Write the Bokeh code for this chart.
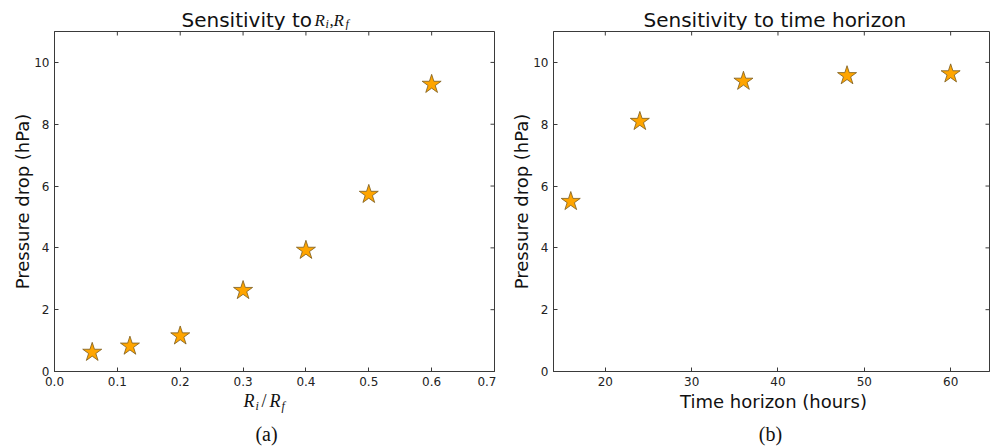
import math
from bokeh.plotting import figure
from bokeh.layouts import row, column
from bokeh.models import Range1d, FixedTicker, Label, PrintfTickFormatter
from bokeh.embed import file_html
from bokeh.resources import INLINE

# ---- data ----
ratio = [0.06, 0.12, 0.2, 0.3, 0.4, 0.5, 0.6]
drop_ratio = [0.62, 0.82, 1.15, 2.62, 3.92, 5.73, 9.29]
horizon = [16, 24, 36, 48, 60]
drop_horizon = [5.5, 8.09, 9.39, 9.57, 9.63]

ratio_ticks = [0.0, 0.1, 0.2, 0.3, 0.4, 0.5, 0.6, 0.7]
horizon_ticks = [20, 30, 40, 50, 60]
drop_ticks = [0, 2, 4, 6, 8, 10]
drop_range = (0, 11)
ratio_range = (0, 0.7)
horizon_range = (14, 64.5)

TOP_H = 30        # title strip height
MAIN_H = 360      # main plot height (frame 31..371 on the page)
BOT_MIN = 19      # room for the tick labels under the frame
BOT_H = 446 - TOP_H - MAIN_H   # strip with x-label / caption
AX = "#3a3a3a"
SANS = "DejaVu Sans"
SERIF = "Liberation Serif"


def style_axis(ax, ticks):
    ax.ticker = FixedTicker(ticks=ticks)
    ax.axis_line_color = AX
    ax.major_tick_line_color = AX
    ax.major_tick_in = 4
    ax.major_tick_out = 0
    ax.minor_tick_line_color = None
    ax.major_label_text_font = SANS
    ax.major_label_text_font_size = "12px"
    ax.major_label_text_color = "#222222"
    ax.major_label_standoff = 5
    ax.axis_label_text_font = SANS
    ax.axis_label_text_font_size = "18px"
    ax.axis_label_text_font_style = "normal"
    ax.axis_label_text_color = "#111111"


def make_fig(width, left, right, xr, xticks):
    p = figure(width=width, height=MAIN_H, output_backend="svg",
               toolbar_location=None, title=None,
               x_range=Range1d(*xr), y_range=Range1d(*drop_range),
               min_border_left=left, min_border_right=right,
               min_border_top=1, min_border_bottom=BOT_MIN)
    p.grid.visible = False
    p.outline_line_color = AX
    p.background_fill_color = "white"
    p.border_fill_color = "white"
    style_axis(p.xaxis[0], xticks)
    style_axis(p.yaxis[0], drop_ticks)
    p.yaxis[0].axis_label = "Pressure drop (hPa)"
    p.yaxis[0].axis_label_standoff = -2
    # inward ticks on the top and right edges (mirrors of the main ticks)
    p.scatter(xticks, [drop_range[1]] * len(xticks), marker="dash", size=8,
              angle=math.pi / 2, line_color=AX, line_width=1)
    p.scatter([xr[1]] * len(drop_ticks), drop_ticks, marker="dash", size=8,
              line_color=AX, line_width=1)
    return p


def strip(width, height, y0, left, right, fx0, fx1):
    # x in page pixels (frame fx0..fx1), y in page pixels (downwards)
    s = figure(width=width, height=height, output_backend="svg",
               toolbar_location=None, title=None,
               x_range=Range1d(fx0, fx1), y_range=Range1d(y0 + height, y0),
               x_axis_type=None, y_axis_type=None, min_border_left=left,
               min_border_right=right, min_border_top=0,
               min_border_bottom=0)
    s.outline_line_color = None
    s.grid.visible = False
    s.background_fill_color = "white"
    s.border_fill_color = "white"
    return s


def lab(s, x, base, text, size, font=SERIF, style="italic", align="left",
        color="#111111"):
    px = float(size.replace("px", ""))
    s.add_layout(Label(x=x, y=base - 0.35 * px, text=text, text_font=font,
                       text_font_size=size, text_font_style=style,
                       text_align=align, text_baseline="middle",
                       text_color=color))


B0 = TOP_H + MAIN_H   # page y where the bottom strip starts

# ---- left column ----
W1 = 496
L1, R1 = 54, 2
p1 = make_fig(W1, L1, R1, ratio_range, ratio_ticks)
p1.xaxis[0].formatter = PrintfTickFormatter(format="%.1f")
p1.scatter(ratio, drop_ratio, marker="star", size=20,
           fill_color="#FFA500", line_color="#7a5c1e", line_width=0.8)

t1 = strip(W1, TOP_H, 0, L1, R1, L1, W1 - R1)
lab(t1, 181, 26, "Sensitivity to", "20px", font=SANS, style="normal")
lab(t1, 314, 25.5, "R", "17px")
lab(t1, 325, 27.5, "i", "12px")
lab(t1, 329, 25.5, ",", "17px", style="normal")
lab(t1, 333, 25.5, "R", "17px")
lab(t1, 345, 27.5, "f", "12px")

b1 = strip(W1, BOT_H, B0, L1, R1, L1, W1 - R1)
lab(b1, 243, 407, "R", "18px")
lab(b1, 255, 410, "i", "12px")
lab(b1, 261, 407, "/", "18px", style="normal")
lab(b1, 269, 407, "R", "18px")
lab(b1, 281, 410, "f", "12px")
lab(b1, 266, 440, "(a)", "20px", style="normal", align="center")

# ---- right column ----
W2 = 497
L2, R2 = 57, 4
p2 = make_fig(W2, L2, R2, horizon_range, horizon_ticks)
p2.scatter(horizon, drop_horizon, marker="star", size=20,
           fill_color="#FFA500", line_color="#7a5c1e", line_width=0.8)

t2 = strip(W2, TOP_H, 0, L2, R2, W1 + L2, W1 + W2 - R2)
lab(t2, 643, 26, "Sensitivity to time horizon", "20px",
    font=SANS, style="normal")

b2 = strip(W2, BOT_H, B0, L2, R2, W1 + L2, W1 + W2 - R2)
lab(b2, 773, 407, "Time horizon (hours)", "18px", font=SANS,
    style="normal", align="center")
lab(b2, 770, 440, "(b)", "20px", style="normal", align="center")

layout = row(column(t1, p1, b1), column(t2, p2, b2))
open("out.html", "w").write(file_html(layout, INLINE))
